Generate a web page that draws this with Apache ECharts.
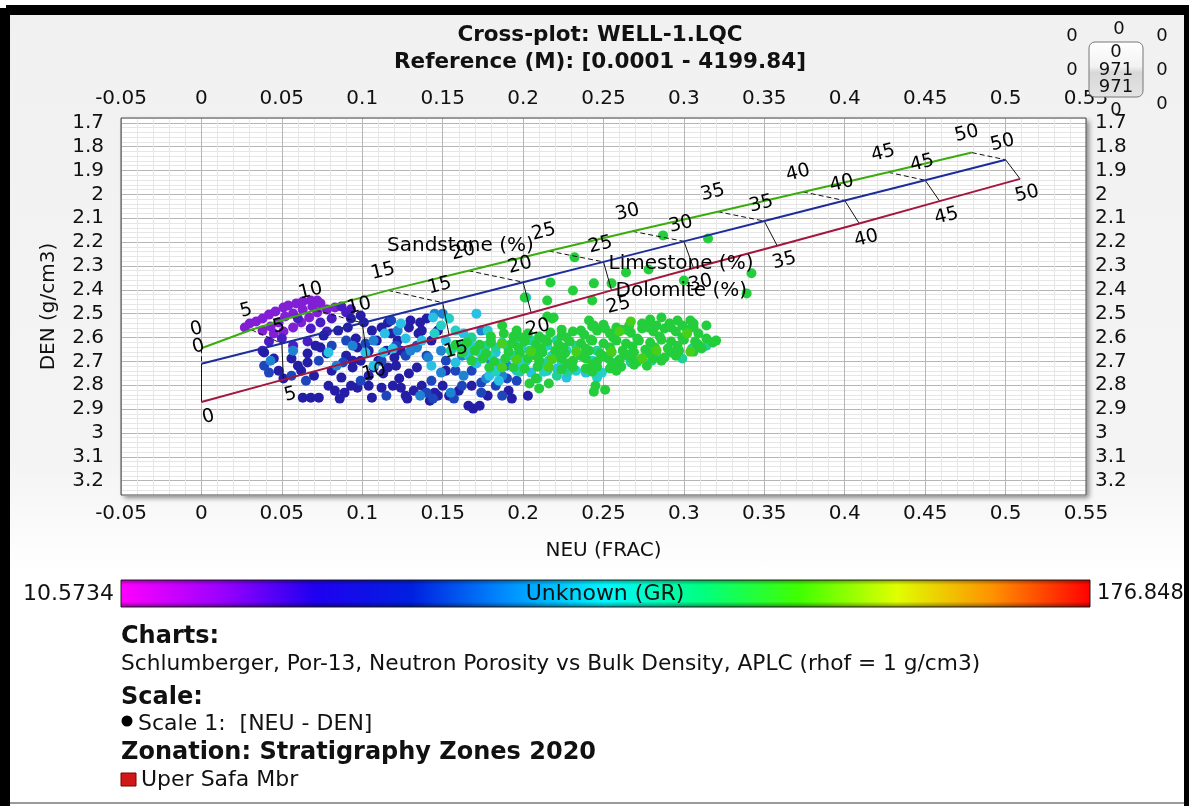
<!DOCTYPE html>
<html><head><meta charset="utf-8">
<script src="https://cdn.jsdelivr.net/npm/echarts@6/dist/echarts.min.js"></script>
<style>
html,body{margin:0;padding:0;background:#fff}
#wrap{position:relative;width:1189px;height:806px;background:#fff;overflow:hidden}
.bg{position:absolute;left:10px;top:15px;width:1174px;height:560px;background:linear-gradient(#f1f1f1 0%,#f4f4f4 80%,#ffffff 100%)}
.blk{position:absolute;background:#000}
.botline{position:absolute;left:10px;top:802px;width:1174px;height:2px;background:#9a9a9a}
#c{position:absolute;left:0;top:0;width:1189px;height:806px}
</style>
</head><body>
<div id="wrap">
<div class="bg"></div>
<div class="blk" style="left:6px;top:5px;width:1183px;height:10px"></div>
<div class="blk" style="left:0;top:8px;width:10px;height:798px"></div>
<div class="blk" style="left:1184px;top:5px;width:5px;height:801px"></div>
<div class="botline"></div>
<div id="c"></div>
</div>
<script>
// ---------- axis tick labels ----------
const xTickLabels = [-0.05,0,0.05,0.1,0.15,0.2,0.25,0.3,0.35,0.4,0.45,0.5,0.55];
const yTickLabels = [1.7,1.8,1.9,2,2.1,2.2,2.3,2.4,2.5,2.6,2.7,2.8,2.9,3,3.1,3.2];

// ---------- Por-13 lithology lines (porosity %, NEU, DEN) ----------
const phiTicks = [0,5,10,15,20,25,30,35,40,45,50];
const sandNeu = [0,0.031,0.071,0.116,0.166,0.216,0.268,0.321,0.374,0.427,0.479];
const sandDen = [2.645,2.5675,2.485,2.4025,2.32,2.2375,2.155,2.0725,1.99,1.9075,1.825];
const limeNeu = [0,0.05,0.10,0.15,0.20,0.25,0.30,0.35,0.40,0.45,0.50];
const limeDen = [2.71,2.625,2.539,2.454,2.368,2.283,2.197,2.112,2.026,1.941,1.855];
const dolNeu  = [0,0.051,0.103,0.154,0.205,0.255,0.306,0.358,0.409,0.459,0.509];
const dolDen  = [2.87,2.7765,2.683,2.5895,2.496,2.4025,2.309,2.2155,2.122,2.0285,1.935];
const lithNames = ['Sandstone (%)','Limestone (%)','Dolomite (%)'];

// ---------- colour scale (GR) ----------
const grMin = 10.5734, grMax = 176.848;
const grLabel = 'Unknown (GR)';

// ---------- cross-plot points [NEU, DEN], grouped by GR ----------
const purpleGR = 29;
const purplePts = [[0.027,2.558],[0.030,2.541],[0.034,2.533],[0.038,2.520],[0.042,2.504],[0.046,2.491],[0.051,2.474],[0.054,2.466],[0.059,2.457],[0.063,2.449],[0.068,2.445],[0.072,2.445],[0.074,2.457],[0.069,2.470],[0.063,2.483],[0.057,2.499],[0.052,2.512],[0.048,2.537],[0.043,2.554],[0.038,2.571],[0.045,2.583],[0.051,2.575],[0.057,2.558],[0.062,2.537],[0.067,2.516],[0.072,2.495],[0.078,2.483],[0.083,2.474]];
const violetGR = 39;
const violetPts = [[0.087,2.470],[0.068,2.562],[0.042,2.617],[0.050,2.604],[0.074,2.537],[0.081,2.520],[0.090,2.495],[0.057,2.634],[0.066,2.617],[0.038,2.655],[0.060,2.520],[0.093,2.482],[0.078,2.575]];
const navyGR = 50;
const navyPts = [[0.039,2.663],[0.045,2.688],[0.060,2.718],[0.066,2.667],[0.066,2.705],[0.074,2.642],[0.078,2.667],[0.081,2.739],[0.085,2.571],[0.091,2.558],[0.096,2.604],[0.097,2.642],[0.094,2.726],[0.087,2.768],[0.079,2.802],[0.083,2.823],[0.089,2.831],[0.086,2.856],[0.097,2.810],[0.104,2.802],[0.106,2.852],[0.112,2.810],[0.113,2.751],[0.116,2.726],[0.112,2.558],[0.116,2.537],[0.118,2.583],[0.122,2.613],[0.129,2.558],[0.130,2.529],[0.135,2.583],[0.143,2.613],[0.147,2.571],[0.129,2.751],[0.124,2.810],[0.132,2.823],[0.147,2.844],[0.063,2.852],[0.068,2.852],[0.073,2.852],[0.051,2.772],[0.110,2.697],[0.120,2.684],[0.124,2.655],[0.104,2.655],[0.107,2.726],[0.136,2.537],[0.134,2.726],[0.128,2.856],[0.145,2.831],[0.169,2.898],[0.166,2.886],[0.173,2.886],[0.191,2.823],[0.193,2.856],[0.203,2.844],[0.093,2.520],[0.101,2.537],[0.106,2.571],[0.071,2.634],[0.090,2.676],[0.099,2.697],[0.123,2.772],[0.150,2.802],[0.168,2.802],[0.178,2.844],[0.048,2.739],[0.056,2.688],
[0.076,2.592],[0.094,2.697],[0.104,2.760],[0.119,2.802],[0.127,2.844],[0.137,2.802],[0.142,2.865],[0.154,2.844],[0.160,2.823],[0.109,2.613],[0.115,2.655],[0.137,2.571],[0.140,2.520],[0.099,2.508],[0.062,2.739],[0.070,2.760],[0.093,2.802],[0.121,2.718],[0.152,2.739]];
const blueGR = 64;
const bluePts = [[0.039,2.718],[0.090,2.613],[0.102,2.625],[0.121,2.634],[0.134,2.634],[0.140,2.676],[0.152,2.697],[0.158,2.739],[0.168,2.739],[0.174,2.831],[0.187,2.844],[0.056,2.760],[0.065,2.781],[0.144,2.856],[0.115,2.844],[0.183,2.802],[0.196,2.781],[0.140,2.831],[0.042,2.747],[0.073,2.697],[0.099,2.781],[0.157,2.856],
[0.081,2.634],[0.088,2.705],[0.112,2.697],[0.127,2.676],[0.143,2.781],[0.162,2.802],[0.174,2.789],[0.190,2.772],[0.118,2.529]];
const lightBlueGR = 75;
const lightBluePts = [[0.145,2.500],[0.150,2.500],[0.174,2.571],[0.134,2.642],[0.141,2.684],[0.136,2.844],[0.122,2.571],[0.094,2.634],[0.107,2.613],[0.130,2.655],[0.149,2.655],[0.162,2.676],[0.171,2.705],[0.180,2.697],[0.190,2.718],[0.187,2.760],[0.177,2.772],[0.163,2.760],[0.149,2.747],[0.155,2.831],[0.057,2.655],[0.084,2.718],[0.043,2.697]];
const cyanGR = 87;
const cyanPts = [[0.079,2.663],[0.114,2.583],[0.124,2.541],[0.113,2.663],[0.163,2.583],[0.171,2.500],[0.185,2.781],[0.179,2.760],[0.144,2.516],[0.127,2.604],[0.137,2.613],[0.152,2.613],[0.162,2.634],[0.168,2.655],[0.183,2.663],[0.193,2.676],[0.202,2.697],[0.211,2.705],[0.215,2.739],[0.205,2.747],[0.196,2.739],[0.158,2.705],[0.143,2.718],[0.119,2.646],[0.102,2.663],[0.107,2.718],[0.202,2.432],[0.227,2.768],[0.239,2.747],[0.221,2.730],
[0.171,2.709],[0.185,2.709],[0.166,2.676]];
const tealGR = 99;
const tealPts = [[0.145,2.583],[0.187,2.621],[0.149,2.550],[0.158,2.571],[0.168,2.604],[0.180,2.613],[0.190,2.634],[0.199,2.646],[0.208,2.655],[0.218,2.676],[0.224,2.705],[0.215,2.634],[0.227,2.655],[0.236,2.676],[0.243,2.697],[0.233,2.739],[0.249,2.747],[0.178,2.571],[0.173,2.663],[0.199,2.705],[0.255,2.718],[0.246,2.768],[0.154,2.520],[0.209,2.772],
[0.157,2.642],[0.169,2.642],[0.183,2.743],[0.200,2.709],[0.180,2.676],[0.213,2.743]];
const aquaGreenGR = 109;
const aquaGreenPts = [[0.196,2.604],[0.205,2.613],[0.221,2.613],[0.233,2.634],[0.246,2.655],[0.255,2.663],[0.264,2.676],[0.274,2.688],[0.283,2.676],[0.292,2.663],[0.305,2.646],[0.258,2.705],[0.267,2.705],[0.280,2.697],[0.299,2.688],[0.221,2.760],[0.230,2.718],[0.163,2.634],[0.177,2.634],[0.155,2.655],[0.204,2.655],[0.216,2.697],[0.314,2.634],
[0.168,2.600],[0.183,2.642],[0.194,2.676],[0.214,2.709],[0.198,2.743],[0.228,2.743]];
const greenGR = 120;
const greenPts = [[0.180,2.596],[0.188,2.583],[0.194,2.596],[0.203,2.583],[0.210,2.596],[0.217,2.579],[0.224,2.592],[0.231,2.575],[0.238,2.588],[0.246,2.571],[0.254,2.583],[0.261,2.567],[0.267,2.579],[0.274,2.562],[0.281,2.575],[0.288,2.562],[0.295,2.575],[0.302,2.567],[0.309,2.583],
[0.158,2.630],[0.165,2.621],[0.173,2.630],[0.180,2.621],[0.193,2.625],[0.201,2.617],[0.208,2.630],[0.215,2.617],[0.222,2.630],[0.229,2.617],[0.236,2.625],[0.243,2.613],[0.250,2.625],[0.258,2.613],[0.264,2.625],[0.272,2.613],[0.279,2.621],[0.286,2.609],[0.292,2.617],[0.300,2.609],[0.307,2.617],[0.314,2.604],[0.318,2.621],
[0.162,2.663],[0.170,2.655],[0.177,2.667],[0.191,2.659],[0.198,2.667],[0.212,2.663],[0.220,2.655],[0.226,2.667],[0.241,2.655],[0.248,2.667],[0.262,2.655],[0.269,2.663],[0.276,2.651],[0.290,2.646],[0.297,2.655],[0.311,2.646],
[0.168,2.697],[0.175,2.688],[0.182,2.701],[0.189,2.688],[0.203,2.688],[0.210,2.697],[0.224,2.688],[0.231,2.697],[0.239,2.688],[0.246,2.701],[0.253,2.688],[0.260,2.692],[0.267,2.684],[0.281,2.688],[0.288,2.684],[0.295,2.676],
[0.179,2.726],[0.194,2.726],[0.201,2.730],[0.209,2.722],[0.224,2.734],[0.231,2.726],[0.239,2.730],[0.246,2.722],[0.254,2.730],[0.261,2.722],[0.269,2.714],[0.277,2.718],
[0.243,2.554],[0.250,2.546],[0.258,2.558],[0.266,2.550],[0.274,2.541],[0.283,2.550],[0.291,2.541],[0.299,2.550],[0.306,2.541],[0.314,2.550],
[0.279,2.525],[0.286,2.516],[0.296,2.529],[0.304,2.529],[0.320,2.613],
[0.245,2.802],[0.244,2.827],[0.251,2.819],[0.241,2.529],[0.244,2.550],[0.218,2.520],[0.208,2.772],[0.210,2.814],[0.216,2.793],[0.204,2.793],[0.187,2.550],[0.215,2.512],
[0.201,2.432],[0.215,2.445],[0.219,2.516],[0.231,2.403],[0.243,2.445],[0.255,2.373],[0.244,2.373],[0.232,2.264],[0.217,2.369],[0.264,2.327],[0.278,2.315],[0.287,2.172],[0.315,2.185],[0.342,2.331],[0.339,2.415],[0.300,2.361],[0.196,2.571],
[0.199,2.600],[0.213,2.608],[0.227,2.600],[0.242,2.608],[0.256,2.600],[0.271,2.604],[0.285,2.596],[0.299,2.600],
[0.197,2.642],[0.211,2.646],[0.225,2.642],[0.239,2.646],[0.254,2.642],[0.268,2.638],[0.282,2.642],[0.296,2.634],[0.309,2.630],
[0.208,2.676],[0.223,2.680],[0.236,2.676],[0.251,2.680],[0.265,2.672],[0.279,2.668],[0.293,2.663],[0.306,2.659],
[0.228,2.709],[0.243,2.713],[0.257,2.709],[0.271,2.701],[0.286,2.697],
[0.243,2.743],[0.258,2.739],
[0.224,2.567],[0.236,2.571],[0.251,2.562],[0.264,2.567],[0.278,2.558],[0.292,2.558],[0.306,2.558]];
const limeGR = 130;
const limePts = [[0.187,2.625],[0.205,2.659],[0.233,2.659],[0.255,2.659],[0.283,2.655],[0.304,2.659],[0.196,2.692],[0.218,2.692],[0.274,2.688],[0.187,2.726],[0.216,2.726],[0.302,2.583],[0.267,2.533],[0.260,2.575]];

// ---------- build ----------
const FONT = 'DejaVu Sans';
const groups = [[purplePts,purpleGR],[violetPts,violetGR],[navyPts,navyGR],[bluePts,blueGR],[lightBluePts,lightBlueGR],[cyanPts,cyanGR],[tealPts,tealGR],[aquaGreenPts,aquaGreenGR],[greenPts,greenGR],[limePts,limeGR]];
const scatterData = [];
groups.forEach(([pts,gr]) => pts.forEach(p => scatterData.push([p[0],p[1],gr])));

const pointColors = ['#d020d0','#b020d8','#8c20d8','#5a1ccc','#341cb8','#1e1ea0','#1c36b4','#1e5cc8','#2090d8','#28bce4','#28d0e0','#20d0b8','#20d090','#20cc40','#30d020','#70d010','#d8d800','#f0b000','#f08000','#f04000','#e01010'];
const barColors = ['#ff00ff','#a000ff','#2000f0','#0020e0','#0090ff','#00f8ff','#00ff80','#40ff00','#e0ff00','#ff9000','#ff0000'];

const isTick = (v, arr) => arr.some(t => Math.abs(t - v) < 1e-7);
const fmtNum = v => String(parseFloat(v.toFixed(3)));
const xGrid = ['#b5b5b5','#e6e6e6','#e6e6e6','#e6e6e6','#e6e6e6'];
const yGrid = ['#e6e6e6','#b5b5b5','#e6e6e6','#e6e6e6','#e6e6e6'];
const axisText = {fontSize:20, fontFamily:FONT, color:'#111'};

const pair = (xs, ys) => xs.map((x,i) => [x, ys[i]]);
const sandLimeLinks = phiTicks.map((p,i) => ({coords:[[sandNeu[i],sandDen[i]],[limeNeu[i],limeDen[i]]]}));
const limeDolLinks = phiTicks.map((p,i) => ({coords:[[limeNeu[i],limeDen[i]],[dolNeu[i],dolDen[i]]]}));
const iLab = 4, iLab2 = 5;

function txt(x, y, text, font, align, extra, fill) {
  return Object.assign({type:'text', silent:true, z:22, x, y, style:{text, font, fill:fill||'#111', align:align||'left', verticalAlign:'middle'}}, extra||{});
}

const chart = echarts.init(document.getElementById('c'), null, {renderer:'canvas', width:1189, height:806});
chart.setOption({
  backgroundColor:'transparent',
  animation:false,
  grid:{left:121, right:103, top:118, bottom:311, show:true, backgroundColor:'#fff', borderWidth:0,
        shadowColor:'rgba(0,0,0,0.45)', shadowBlur:5, shadowOffsetX:3, shadowOffsetY:3},
  visualMap:{show:false, type:'continuous', dimension:2, seriesIndex:0, min:grMin, max:grMax, inRange:{color:pointColors}},
  xAxis:[
    {type:'value', position:'bottom', min:-0.05, max:0.55, interval:0.01,
     axisLine:{show:false}, axisTick:{show:false},
     axisLabel:Object.assign({margin:9, formatter:v => isTick(v,xTickLabels) ? fmtNum(v) : ''}, axisText),
     splitLine:{show:true, lineStyle:{color:xGrid, width:1}},
     name:'NEU (FRAC)', nameLocation:'middle', nameGap:46, nameTextStyle:{fontSize:20, fontFamily:FONT, color:'#111'}},
    {type:'value', position:'top', min:-0.05, max:0.55, interval:0.01,
     axisLine:{show:false}, axisTick:{show:false}, splitLine:{show:false},
     axisLabel:Object.assign({margin:9, formatter:v => isTick(v,xTickLabels) ? fmtNum(v) : ''}, axisText)}
  ],
  yAxis:[
    {type:'value', position:'left', inverse:true, min:1.68, max:3.26, interval:0.02,
     axisLine:{show:false}, axisTick:{show:false},
     axisLabel:Object.assign({margin:17, formatter:v => isTick(v,yTickLabels) ? fmtNum(v) : ''}, axisText),
     splitLine:{show:true, lineStyle:{color:yGrid, width:1}},
     name:'DEN (g/cm3)', nameLocation:'middle', nameGap:62, nameRotate:90, nameTextStyle:{fontSize:20, fontFamily:FONT, color:'#111'}},
    {type:'value', position:'right', inverse:true, min:1.68, max:3.26, interval:0.02,
     axisLine:{show:false}, axisTick:{show:false}, splitLine:{show:false},
     axisLabel:Object.assign({margin:9, formatter:v => isTick(v,yTickLabels) ? fmtNum(v) : ''}, axisText)}
  ],
  series:[
    {type:'scatter', data:scatterData, symbolSize:10, z:2, itemStyle:{opacity:1}},
    {type:'lines', coordinateSystem:'cartesian2d', z:3, silent:true, data:sandLimeLinks, lineStyle:{color:'#111', width:1, type:[5,3], opacity:1}},
    {type:'lines', coordinateSystem:'cartesian2d', z:3, silent:true, data:limeDolLinks, lineStyle:{color:'#111', width:1, type:'solid', opacity:1}},
    {type:'line', data:pair(sandNeu,sandDen), showSymbol:false, z:4, silent:true, lineStyle:{color:'#3aac0c', width:2}},
    {type:'line', data:pair(limeNeu,limeDen), showSymbol:false, z:4, silent:true, lineStyle:{color:'#1c2c9c', width:2}},
    {type:'line', data:pair(dolNeu,dolDen), showSymbol:false, z:4, silent:true, lineStyle:{color:'#a3163e', width:2}}
  ]
});

// porosity tick labels and lithology names, placed through the chart's own scales
const toPx = (x, y) => chart.convertToPixel({gridIndex:0}, [x, y]);
const ROT = 14 * Math.PI / 180;
function tickLabelGraphics(xs, ys, dx, dy) {
  return phiTicks.map((p, i) => {
    const q = toPx(xs[i], ys[i]);
    return txt(q[0] + dx, q[1] + dy, String(p), '19px "DejaVu Sans"', 'center', {rotation:ROT, z:24}, '#000');
  });
}
const pS = toPx(sandNeu[iLab], sandDen[iLab]);
const pL = toPx(limeNeu[iLab2], limeDen[iLab2]);
const pD = toPx(dolNeu[iLab2], dolDen[iLab2]);

chart.setOption({
  graphic:[
    {type:'rect', silent:true, z:20, shape:{x:121, y:118, width:965, height:377}, style:{fill:null, stroke:'#4a4a4a', lineWidth:1}},
    ...tickLabelGraphics(sandNeu, sandDen, -5, -19),
    ...tickLabelGraphics(limeNeu, limeDen, -3, -17),
    ...tickLabelGraphics(dolNeu, dolDen, 7, 15),
    txt(pS[0] - 8, pS[1] - 25, lithNames[0], '20px "DejaVu Sans"', 'center', {z:24}, '#000'),
    txt(pL[0] + 5, pL[1] + 2, lithNames[1], '20px "DejaVu Sans"', 'left', {z:24}, '#000'),
    txt(pD[0] + 4, pD[1] + 0, lithNames[2], '20px "DejaVu Sans"', 'left', {z:24}, '#000'),
    txt(600, 35, 'Cross-plot: WELL-1.LQC', 'bold 21.5px "DejaVu Sans"', 'center'),
    txt(600, 62, 'Reference (M): [0.0001 - 4199.84]', 'bold 21.5px "DejaVu Sans"', 'center'),
    // colour bar
    {type:'rect', silent:true, z:20, shape:{x:121, y:580, width:969, height:27},
     style:{fill:new echarts.graphic.LinearGradient(0,0,1,0, barColors.map((c,i) => ({offset:i/(barColors.length-1), color:c}))), stroke:'#222', lineWidth:1}},
    {type:'rect', silent:true, z:21, shape:{x:121, y:580, width:969, height:27},
     style:{fill:new echarts.graphic.LinearGradient(0,0,0,1,[{offset:0,color:'rgba(0,0,0,0.35)'},{offset:0.18,color:'rgba(0,0,0,0)'},{offset:0.8,color:'rgba(0,0,0,0)'},{offset:1,color:'rgba(0,0,0,0.4)'}])}},
    txt(605, 594, grLabel, '22px "DejaVu Sans"', 'center'),
    txt(114, 594, String(grMin), '22px "DejaVu Sans"', 'right'),
    txt(1097, 594, String(grMax), '21px "DejaVu Sans"', 'left'),
    // legend block
    txt(121, 637, 'Charts:', 'bold 24px "DejaVu Sans"'),
    txt(121, 664, 'Schlumberger, Por-13, Neutron Porosity vs Bulk Density, APLC (rhof = 1 g/cm3)', '21.7px "DejaVu Sans"'),
    txt(121, 698, 'Scale:', 'bold 24px "DejaVu Sans"'),
    {type:'circle', silent:true, z:20, shape:{cx:127, cy:721, r:5.5}, style:{fill:'#000'}},
    txt(138, 724, 'Scale 1:  [NEU - DEN]', '22px "DejaVu Sans"'),
    txt(121, 753, 'Zonation: Stratigraphy Zones 2020', 'bold 24px "DejaVu Sans"'),
    {type:'rect', silent:true, z:20, shape:{x:121, y:773, width:15, height:13}, style:{fill:'#d01818', stroke:'#7a0000', lineWidth:1}},
    txt(141, 780, 'Uper Safa Mbr', '22px "DejaVu Sans"'),
    // top-right widget
    {type:'rect', silent:true, z:30, shape:{x:1089, y:42, width:54, height:55, r:6},
     style:{fill:new echarts.graphic.LinearGradient(0,0,0,1,[{offset:0,color:'#ffffff'},{offset:0.45,color:'#f2f2f2'},{offset:0.55,color:'#d8d8d8'},{offset:1,color:'#e4e4e4'}]), stroke:'#777', lineWidth:1}},
    txt(1116, 52, '0', '18px "DejaVu Sans"', 'center', {z:31}),
    txt(1116, 70, '971', '18px "DejaVu Sans"', 'center', {z:31}),
    txt(1116, 87, '971', '18px "DejaVu Sans"', 'center', {z:31}),
    txt(1116, 110, '0', '18px "DejaVu Sans"', 'center', {z:31}),
    txt(1119, 29, '0', '18px "DejaVu Sans"', 'center', {z:31}),
    txt(1072, 36, '0', '18px "DejaVu Sans"', 'center', {z:31}),
    txt(1162, 36, '0', '18px "DejaVu Sans"', 'center', {z:31}),
    txt(1072, 70, '0', '18px "DejaVu Sans"', 'center', {z:31}),
    txt(1162, 70, '0', '18px "DejaVu Sans"', 'center', {z:31}),
    txt(1162, 104, '0', '18px "DejaVu Sans"', 'center', {z:31})
  ]
});
</script>
</body></html>
